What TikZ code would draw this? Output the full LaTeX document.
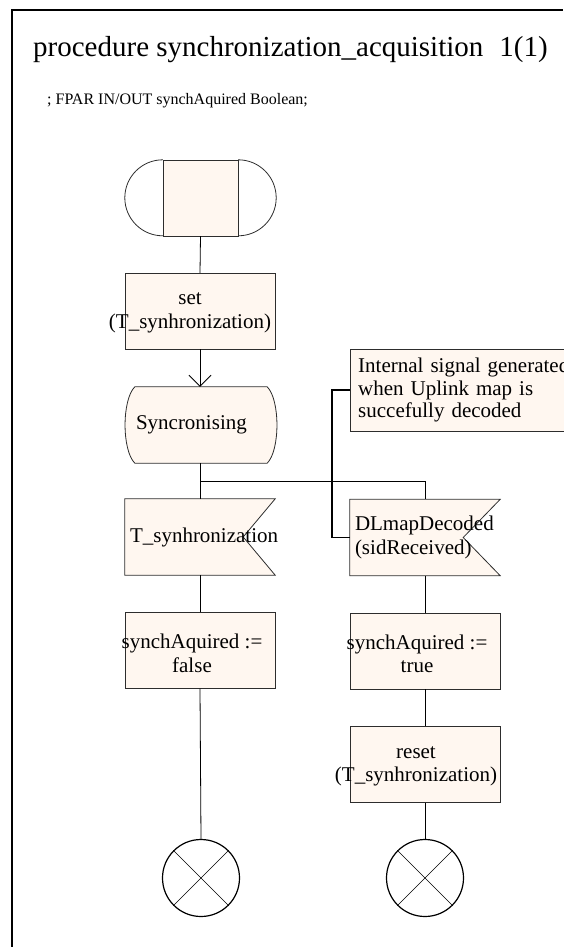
\documentclass[tikz,border=0pt]{standalone}
\usepackage{fontspec}
\setmainfont{Liberation Serif}
\usetikzlibrary{arrows.meta, calc}
\definecolor{sdlcream}{RGB}{255, 247, 240}
\definecolor{sdlline}{RGB}{45, 45, 45}
\pgfdeclarelayer{bg}
\pgfsetlayers{bg,main}

\begin{document}
\begin{tikzpicture}[x=1pt, y=1pt,
    boxfont/.style={font=\fontsize{21}{23.5}\selectfont},
    taskbox/.style={draw=sdlline, fill=sdlcream, minimum width=150pt, minimum height=76pt, inner sep=0pt},
    boxtext/.style={boxfont, align=center, inner sep=0pt},
    shapebox/.style={boxfont, minimum height=76pt, text width=140pt, inner xsep=5pt, align=left},
    stopnode/.style={circle, draw=black, line width=1.2pt, minimum size=77pt, inner sep=0pt},
    flow/.style={draw=black, line width=0.8pt},
    shapeline/.style={fill=sdlcream, draw=sdlline, line width=0.8pt}]
      \useasboundingbox (0,0) rectangle (563,-947);

      % ── Frame and heading ───────────────────────────────────────────
      \draw[line width=1.2pt] (12,-947) -- (12,-10) -- (563,-10);
      \node[anchor=base west, inner sep=0pt, font=\fontsize{29}{31}\selectfont]
      (title) at (33,-57) {procedure synchronization\_acquisition\hspace{0.55em}1(1)};
      \node[anchor=base west, inner sep=0pt, font=\fontsize{16}{18}\selectfont]
      (fpar) at (47,-105) {; FPAR IN/OUT synchAquired Boolean;};

      % ── Start symbol ────────────────────────────────────────────────
      \node[taskbox, minimum width=75pt] (start) at (200.5,-198) {};
      \draw[sdlline, line width=0.8pt] (start.north west) arc[start angle=90, end angle=270, radius=38];
      \draw[sdlline, line width=0.8pt] (start.north east) arc[start angle=90, end angle=-90, radius=38];

      % ── set timer ──────────────────────────────────────────────────
      \node[taskbox] (setbox) at (200,-311) {};
      \node[boxtext] (settxt) at ([xshift=-10,yshift=-2]setbox.center) {set\\(T\_synhronization)};

      % ── State: Syncronising ────────────────────────────────────────
      \node[shapebox, text width=130pt, inner xsep=11pt] (sync) at (201,-425) {Syncronising};

      % ── Input signals ──────────────────────────────────────────────
      \node[shapebox] (tsync) at (200,-537) {T\_synhronization};
      \node[shapebox] (dlmap) at (425,-537.5) {DLmapDecoded\\(sidReceived)};

      % ── Comment ────────────────────────────────────────────────────
      \node[draw=sdlline, fill=sdlcream, anchor=north west, minimum width=260pt, minimum height=82pt,
      boxfont, font=\fontsize{21}{22.5}\selectfont, text width=244pt, inner xsep=8pt, align=left]
      (note) at (350,-349) {Internal signal generated\\when Uplink map is\\succefully decoded};

      % ── Tasks ──────────────────────────────────────────────────────
      \node[taskbox] (falsebox) at (200,-650.5) {};
      \node[boxtext] (falsetxt) at ([xshift=-8,yshift=-3]falsebox.center) {synchAquired :=\\false};
      \node[taskbox] (truebox) at (425,-651) {};
      \node[boxtext] (truetxt) at ([xshift=-8,yshift=-3]truebox.center) {synchAquired :=\\true};
      \node[taskbox] (resetbox) at (425,-764.5) {};
      \node[boxtext] (resettxt) at ([xshift=-9,yshift=-2]resetbox.center) {reset\\(T\_synhronization)};

      % ── Stops ──────────────────────────────────────────────────────
      \node[stopnode] (stopL) at (201,-878) {};
      \node[stopnode] (stopR) at (425,-878) {};
      \foreach \s in {stopL, stopR}{
      	\draw[line width=0.6pt] (\s.135) -- (\s.-45);
      	\draw[line width=0.6pt] (\s.45) -- (\s.-135);
      }

      % ── Outlines drawn behind the texts ────────────────────────────
      \begin{pgfonlayer}{bg}
      	\filldraw[shapeline] ($(sync.north west)+(10,0)$) -- ($(sync.north east)+(-10,0)$)
      	.. controls ($(sync.north east)+(3,-13)$) and ($(sync.south east)+(3,13)$) .. ($(sync.south east)+(-10,0)$)
      	-- ($(sync.south west)+(10,0)$)
      	.. controls ($(sync.south west)+(-3,13)$) and ($(sync.north west)+(-3,-13)$) .. cycle;
      	\filldraw[shapeline] (tsync.north west) -- (tsync.north east) -- ($(tsync.east)+(-32,0)$)
      	-- (tsync.south east) -- (tsync.south west) -- cycle;
      	\filldraw[shapeline] (dlmap.north west) -- (dlmap.north east) -- ($(dlmap.east)+(-37,0)$)
      	-- (dlmap.south east) -- (dlmap.south west) -- cycle;
      \end{pgfonlayer}

      % ── Flow lines ─────────────────────────────────────────────────
      \coordinate (fork) at ($(sync.south)!0.5!(tsync.north)$);
      \draw[flow] (start.south) -- (setbox.north);
      \draw[flow, -{Straight Barb[length=11pt, width=22pt]}] (setbox.south) -- (setbox.south |- sync.north);
      \draw[flow] (setbox.south |- sync.south) -- (tsync.north);
      \draw[flow] (tsync.north |- fork) -| (dlmap.north);
      \draw[flow] (tsync.south) -- (falsebox.north);
      \draw[flow] (falsebox.south) -- (stopL.north);
      \draw[flow] (dlmap.south) -- (truebox.north);
      \draw[flow] (truebox.south) -- (resetbox.north);
      \draw[flow] (resetbox.south) -- (stopR.north);
      \draw[line width=1.6pt] (note.west) -- ++(-18,0) |- (dlmap.west);
\end{tikzpicture}
\end{document}
